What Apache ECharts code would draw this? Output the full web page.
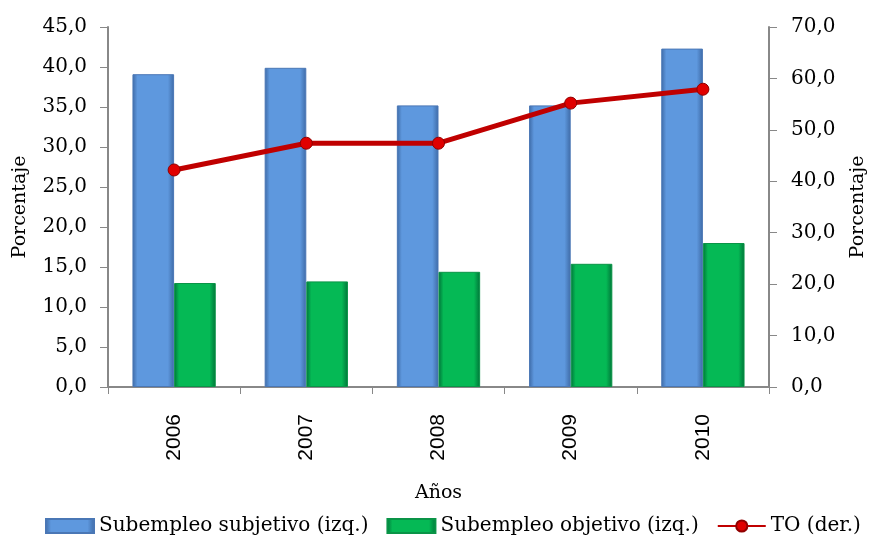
<!DOCTYPE html>
<html>
<head>
<meta charset="utf-8">
<script src="https://cdn.jsdelivr.net/npm/echarts@6/dist/echarts.min.js"></script>
<style>
html, body { margin: 0; padding: 0; background: #fff; }
#main { width: 871px; height: 536px; }
</style>
</head>
<body>
<div id="main"></div>
<script>
// datos
var years = ['2006', '2007', '2008', '2009', '2010'];
var subjetivo = [39.1, 39.9, 35.2, 35.2, 42.3];
var objetivo = [13.0, 13.2, 14.4, 15.4, 18.0];
var tasaOcupacion = [42.2, 47.4, 47.4, 55.2, 57.9];

var serif = '"DejaVu Serif", serif';

var fmt = function (v) {
	return v.toFixed(1).replace('.', ',');
};

var barFill = function (edge, mid) {
	return new echarts.graphic.LinearGradient(0, 0, 1, 0, [
		{ offset: 0, color: edge },
		{ offset: 0.12, color: mid },
		{ offset: 0.85, color: mid },
		{ offset: 1, color: edge }
	]);
};

var chart = echarts.init(document.getElementById('main'));

var option = {
	backgroundColor: '#ffffff',
	animation: false,
	grid: { left: 108, right: 102, top: 27, bottom: 149, containLabel: false, outerBoundsMode: 'none' },
	legend: {
		top: 511,
		left: 40,
		itemWidth: 48,
		itemHeight: 14,
		itemGap: 18,
		textStyle: { fontFamily: serif, fontSize: 20, color: '#000' },
		data: [
			{ name: 'Subempleo subjetivo (izq.)', icon: 'rect' },
			{ name: 'Subempleo objetivo (izq.)', icon: 'rect' },
			{ name: 'TO (der.)' }
		]
	},
	xAxis: {
		type: 'category',
		data: years,
		name: 'Años',
		nameLocation: 'middle',
		nameGap: 97,
		nameTextStyle: { fontFamily: serif, fontSize: 19, color: '#000' },
		axisLine: { lineStyle: { color: '#888', width: 2 } },
		axisTick: { show: true, length: 7, lineStyle: { color: '#888' } },
		axisLabel: { rotate: 90, margin: 27, fontFamily: '"Liberation Sans", Arial, sans-serif', fontSize: 21, color: '#000' }
	},
	yAxis: [
		{
			type: 'value',
			min: 0, max: 45, interval: 5,
			name: 'Porcentaje',
			nameLocation: 'middle',
			nameRotate: 90,
			nameGap: 78,
			nameTextStyle: { fontFamily: serif, fontSize: 19, color: '#000' },
			axisLine: { show: true, lineStyle: { color: '#888', width: 2 } },
			axisTick: { show: true, length: 8, lineStyle: { color: '#888' } },
			splitLine: { show: false },
			axisLabel: { margin: 21, fontFamily: serif, fontSize: 20, color: '#000', formatter: fmt }
		},
		{
			type: 'value',
			min: 0, max: 70, interval: 10,
			name: 'Porcentaje',
			nameLocation: 'middle',
			nameRotate: 90,
			nameGap: 80,
			nameTextStyle: { fontFamily: serif, fontSize: 19, color: '#000' },
			axisLine: { show: true, lineStyle: { color: '#888', width: 2 } },
			axisTick: { show: true, length: 8, lineStyle: { color: '#888' } },
			splitLine: { show: false },
			axisLabel: { margin: 22, fontFamily: serif, fontSize: 20, color: '#000', formatter: fmt }
		}
	],
	series: [
		{
			name: 'Subempleo subjetivo (izq.)',
			type: 'bar',
			yAxisIndex: 0,
			data: subjetivo,
			barGap: '0%',
			barCategoryGap: '37%',
			itemStyle: { color: barFill('#3e6aa6', '#5e98de'), borderColor: '#4a77b5', borderWidth: 1 }
		},
		{
			name: 'Subempleo objetivo (izq.)',
			type: 'bar',
			yAxisIndex: 0,
			data: objetivo,
			itemStyle: { color: barFill('#007338', '#05b955'), borderColor: '#0a9447', borderWidth: 1 }
		},
		{
			name: 'TO (der.)',
			type: 'line',
			yAxisIndex: 1,
			data: tasaOcupacion,
			symbol: 'circle',
			symbolSize: 12,
			lineStyle: { color: '#c00000', width: 5 },
			itemStyle: { color: '#e00000', borderColor: '#900000', borderWidth: 1 }
		}
	]
};

chart.setOption(option);
</script>
</body>
</html>
